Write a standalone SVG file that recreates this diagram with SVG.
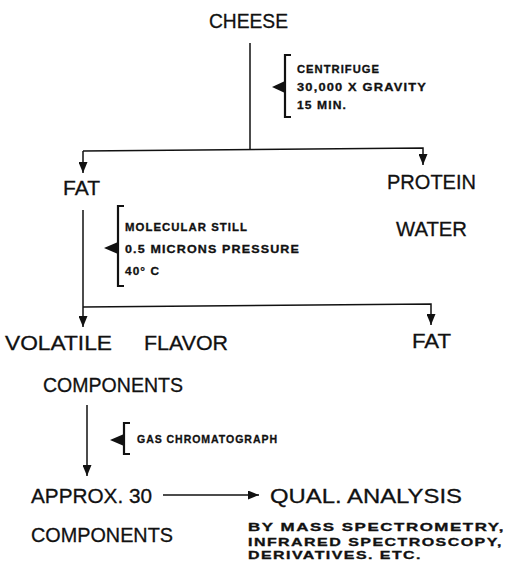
<svg xmlns="http://www.w3.org/2000/svg" width="509" height="561" viewBox="0 0 509 561">
<defs>
<marker id="ah" markerUnits="userSpaceOnUse" markerWidth="11" markerHeight="9" viewBox="0 0 11 9" refX="11" refY="4.5" orient="auto">
<path d="M0,0 L11,4.5 L0,9 Z" fill="#111"/>
</marker>
</defs>
<style>
.big{font-family:"Liberation Sans",Arial,sans-serif;font-size:21px;fill:#111;stroke:#111;stroke-width:0.3}
.sm{font-family:"Liberation Sans",Arial,sans-serif;font-size:11px;font-weight:bold;letter-spacing:1px;fill:#111;stroke:#111;stroke-width:0.3}
.ln{stroke:#111;stroke-width:1.5;fill:none}
.br{stroke:#111;stroke-width:2.2;fill:none}
.tri{fill:#111}
</style>
<rect width="509" height="561" fill="#fff"/>
<g id="connectors">
<line class="ln" x1="250" y1="43" x2="250" y2="150"/>
<polyline class="ln" points="83,151 423,148 423,165" marker-end="url(#ah)"/>
<line class="ln" x1="83" y1="151" x2="83" y2="173" marker-end="url(#ah)"/>
<line class="ln" x1="83" y1="210" x2="83" y2="327" marker-end="url(#ah)"/>
<polyline class="ln" points="83,307 431,304 431,325" marker-end="url(#ah)"/>
<line class="ln" x1="87" y1="405" x2="87" y2="476" marker-end="url(#ah)"/>
<line class="ln" x1="163" y1="495" x2="259" y2="495" marker-end="url(#ah)"/>
</g>
<g id="cheese"><text class="big" x="209" y="28" textLength="79" lengthAdjust="spacingAndGlyphs">CHEESE</text></g>
<g id="centrifuge">
<path class="br" d="M291,55 H285 V117 H291"/>
<polygon class="tri" points="272,87 285,81 285,93"/>
<text class="sm" x="297" y="73" textLength="83" lengthAdjust="spacingAndGlyphs">CENTRIFUGE</text>
<text class="sm" x="297" y="91" textLength="130" lengthAdjust="spacingAndGlyphs">30,000 X GRAVITY</text>
<text class="sm" x="297" y="109" textLength="50" lengthAdjust="spacingAndGlyphs">15 MIN.</text>
</g>
<g id="fat1"><text class="big" x="63" y="195" textLength="37" lengthAdjust="spacingAndGlyphs">FAT</text></g>
<g id="protein-water">
<text class="big" x="387" y="189" textLength="89" lengthAdjust="spacingAndGlyphs">PROTEIN</text>
<text class="big" x="396" y="236" textLength="71" lengthAdjust="spacingAndGlyphs">WATER</text>
</g>
<g id="still">
<path class="br" d="M124,206 H118 V286 H124"/>
<polygon class="tri" points="104,248 118,242 118,254"/>
<text class="sm" x="125" y="231" textLength="123" lengthAdjust="spacingAndGlyphs">MOLECULAR  STILL</text>
<text class="sm" x="125" y="253" textLength="175" lengthAdjust="spacingAndGlyphs">0.5  MICRONS  PRESSURE</text>
<text class="sm" x="125" y="275" textLength="35" lengthAdjust="spacingAndGlyphs">40° C</text>
</g>
<g id="volatile">
<text class="big" x="5" y="350" textLength="107" lengthAdjust="spacingAndGlyphs">VOLATILE</text>
<text class="big" x="144" y="350" textLength="84" lengthAdjust="spacingAndGlyphs">FLAVOR</text>
<text class="big" x="43" y="392" textLength="140" lengthAdjust="spacingAndGlyphs">COMPONENTS</text>
</g>
<g id="fat2"><text class="big" x="412" y="348" textLength="39" lengthAdjust="spacingAndGlyphs">FAT</text></g>
<g id="gc">
<path class="br" d="M130,423 H124 V454 H130"/>
<polygon class="tri" points="110,440 124,434 124,446"/>
<text class="sm" x="137" y="443" textLength="141" lengthAdjust="spacingAndGlyphs">GAS  CHROMATOGRAPH</text>
</g>
<g id="approx">
<text class="big" x="31" y="503" textLength="121" lengthAdjust="spacingAndGlyphs">APPROX. 30</text>
<text class="big" x="31" y="542" textLength="142" lengthAdjust="spacingAndGlyphs">COMPONENTS</text>
</g>
<g id="qual">
<text class="big" x="270" y="503" textLength="192" lengthAdjust="spacingAndGlyphs">QUAL.  ANALYSIS</text>
<text class="sm" x="248" y="531" textLength="257" lengthAdjust="spacingAndGlyphs">BY  MASS  SPECTROMETRY,</text>
<text class="sm" x="248" y="546" textLength="255" lengthAdjust="spacingAndGlyphs">INFRARED  SPECTROSCOPY,</text>
<text class="sm" x="248" y="559" textLength="174" lengthAdjust="spacingAndGlyphs">DERIVATIVES.  ETC.</text>
</g>
</svg>
